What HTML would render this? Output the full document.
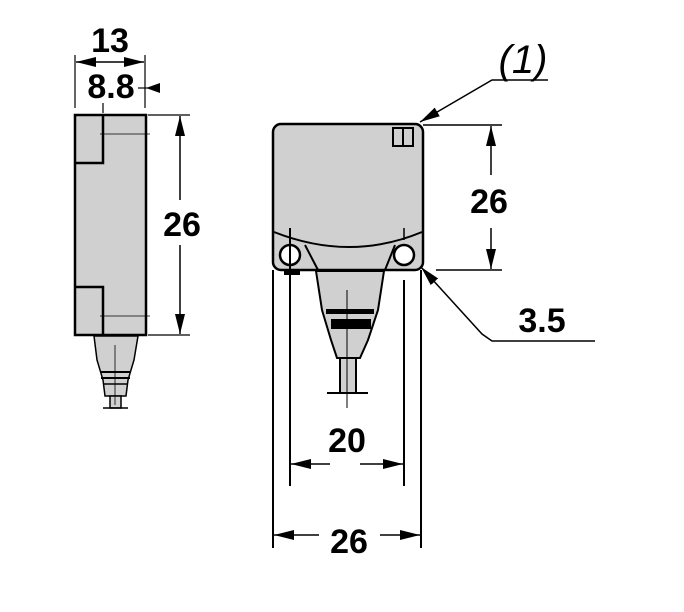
<!DOCTYPE html>
<html><head><style>body{margin:0;background:#fff}svg{display:block}</style></head><body>
<svg width="684" height="612" viewBox="0 0 684 612" xmlns="http://www.w3.org/2000/svg" font-family="Liberation Sans, Arial, sans-serif" font-weight="bold">
<defs>
<marker id="a" viewBox="0 0 20 10" refX="20" refY="5" markerWidth="20" markerHeight="10" markerUnits="userSpaceOnUse" orient="auto"><path d="M0,0L20,5L0,10z" fill="#000"/></marker>
</defs>
<g stroke="#000" fill="none">
<!-- LEFT VIEW -->
<line x1="75" y1="55" x2="75" y2="108" stroke-width="1.2"/>
<line x1="145" y1="55" x2="145" y2="108" stroke-width="1.2"/>
<line x1="103" y1="103" x2="103" y2="113" stroke-width="1.2"/>
<line x1="110" y1="62" x2="76" y2="62" stroke-width="1.5" marker-end="url(#a)"/>
<line x1="110" y1="62" x2="144" y2="62" stroke-width="1.5" marker-end="url(#a)"/>
<line x1="138" y1="88" x2="148" y2="88" stroke-width="1.2"/>
<path d="M160,83L146,88L160,93z" fill="#000" stroke="none"/>
<rect x="75" y="115" width="71" height="220" fill="#d0d0d0" stroke-width="2.5"/>
<path d="M75,163H103V115M75,287H103V335" stroke-width="2.5"/>
<line x1="100" y1="134" x2="150" y2="134" stroke-width="0.8"/>
<line x1="100" y1="316" x2="150" y2="316" stroke-width="0.8"/>
<line x1="148" y1="115" x2="190" y2="115" stroke-width="1.2"/>
<line x1="148" y1="335" x2="190" y2="335" stroke-width="1.2"/>
<line x1="180" y1="200" x2="180" y2="116" stroke-width="1.5" marker-end="url(#a)"/>
<line x1="180" y1="245" x2="180" y2="334" stroke-width="1.5" marker-end="url(#a)"/>
<path d="M94,336L138,336L134,360L128,380L126,396L105,396L103,380L97,360Z" fill="#d0d0d0" stroke-width="1.5"/>
<line x1="100" y1="372" x2="131" y2="372" stroke-width="2"/>
<line x1="101" y1="378" x2="130" y2="378" stroke-width="2"/>
<line x1="103" y1="384" x2="128" y2="384" stroke-width="1.5"/>
<rect x="110" y="396" width="11" height="12" fill="#d0d0d0" stroke-width="1.5"/>
<line x1="103" y1="408" x2="128" y2="408" stroke-width="1.5"/>
<line x1="115" y1="345" x2="115" y2="405" stroke-width="0.8"/>
<!-- RIGHT VIEW body -->
<rect x="273" y="124" width="150" height="146" rx="8" fill="#d0d0d0" stroke-width="2.5"/>
<path d="M274,232Q350,262 422,232" stroke-width="2"/>
<rect x="393" y="128" width="20" height="18" stroke-width="2"/>
<line x1="403" y1="128" x2="403" y2="146" stroke-width="2"/>
<circle cx="290" cy="255" r="10" fill="#fff" stroke-width="2.5"/>
<circle cx="404" cy="255" r="10" fill="#fff" stroke-width="2.5"/>
<path d="M305,245L318,270M395,245L385,270" stroke-width="2"/>
<rect x="284" y="270" width="16" height="5" fill="#000" stroke="none"/>
<path d="M316,271L384,271L378,310L368,340L360,358L337,358L331,340L322,310Z" fill="#d0d0d0" stroke-width="2"/>
<rect x="326" y="309" width="48" height="5" fill="#000" stroke="none"/>
<rect x="331" y="319" width="40" height="10" fill="#000" stroke="none"/>
<rect x="340" y="358" width="16" height="35" fill="#d0d0d0" stroke-width="2"/>
<line x1="327" y1="393" x2="368" y2="393" stroke-width="2"/>
<line x1="347" y1="290" x2="347" y2="408" stroke-width="1"/>
<line x1="290" y1="228" x2="290" y2="486" stroke-width="2"/>
<line x1="404" y1="228" x2="404" y2="240" stroke-width="1.5"/>
<line x1="404" y1="280" x2="404" y2="486" stroke-width="2"/>
<line x1="273" y1="270" x2="273" y2="548" stroke-width="2"/>
<line x1="421" y1="270" x2="421" y2="548" stroke-width="2"/>
<line x1="330" y1="464" x2="291" y2="464" stroke-width="1.5" marker-end="url(#a)"/>
<line x1="360" y1="464" x2="403" y2="464" stroke-width="1.5" marker-end="url(#a)"/>
<line x1="319" y1="535" x2="274" y2="535" stroke-width="1.5" marker-end="url(#a)"/>
<line x1="380" y1="535" x2="420" y2="535" stroke-width="1.5" marker-end="url(#a)"/>
<!-- right dims -->
<line x1="423" y1="125" x2="502" y2="125" stroke-width="1.5"/>
<line x1="436" y1="270" x2="502" y2="270" stroke-width="1.5"/>
<line x1="491" y1="175" x2="491" y2="126" stroke-width="1.5" marker-end="url(#a)"/>
<line x1="491" y1="228" x2="491" y2="269" stroke-width="1.5" marker-end="url(#a)"/>
<polyline points="548,80 492,80 420,122" stroke-width="1.5" marker-end="url(#a)"/>
<polyline points="595,341 492,341 482,334 421,267" stroke-width="1.5" marker-end="url(#a)"/>
</g>
<g fill="#000" font-size="34" text-anchor="middle">
<text x="110" y="52">13</text>
<text x="111" y="98">8.8</text>
<text x="182" y="236">26</text>
<text x="489" y="213">26</text>
<text x="542" y="332">3.5</text>
<text x="347" y="452">20</text>
<text x="349" y="553">26</text>
<text x="523" y="73" font-weight="normal" font-style="italic" font-size="40">(1)</text>
</g>
</svg>
</body></html>
